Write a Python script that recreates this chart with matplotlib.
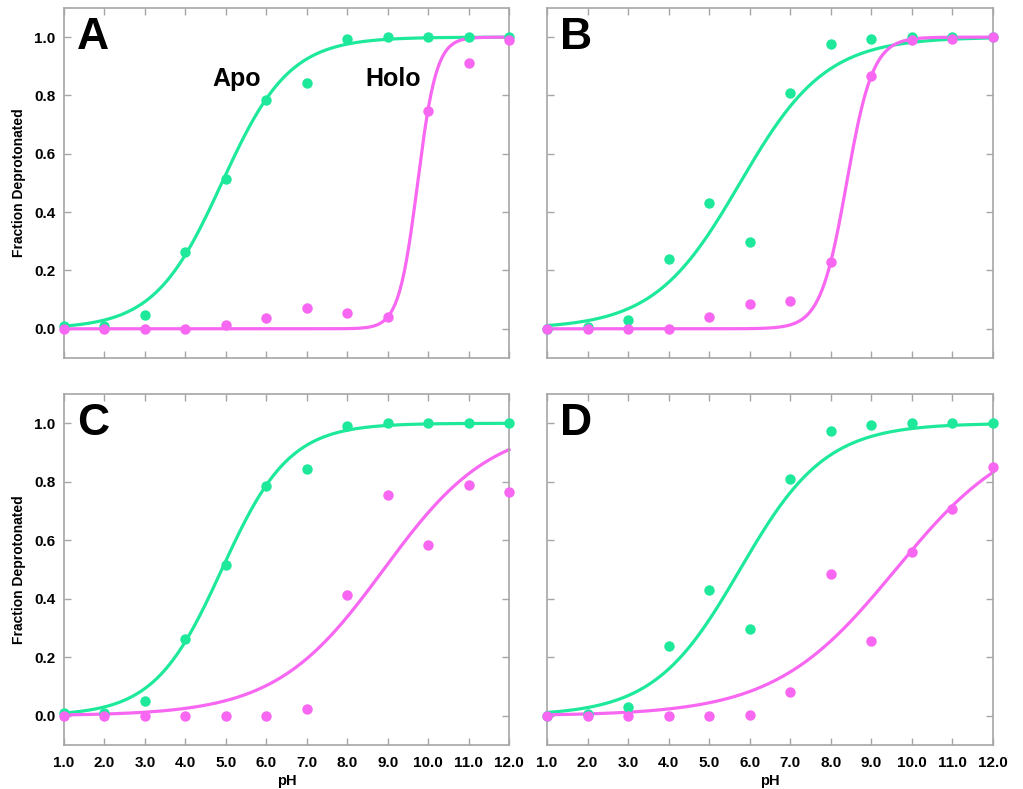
import numpy as np
import matplotlib
matplotlib.use("Agg")
import matplotlib.pyplot as plt

plt.rcParams["font.family"] = ["Liberation Sans", "DejaVu Sans"]
plt.rcParams["font.weight"] = "bold"

# ── Data ─────────────────────────────────────────────────────────────────────
PH = [1, 2, 3, 4, 5, 6, 7, 8, 9, 10, 11, 12]

APO_AC = [0.01, 0.01, 0.049, 0.262, 0.514, 0.786, 0.844, 0.992, 1.0, 1.0, 1.0, 1.0]
APO_BD = [0.0, 0.006, 0.03, 0.238, 0.43, 0.296, 0.808, 0.975, 0.995, 1.0, 1.0, 1.0]

HOLO_A = [0.0, 0.0, 0.0, 0.0, 0.012, 0.038, 0.071, 0.055, 0.04, 0.747, 0.913, 0.991]
HOLO_B = [0.0, 0.0, 0.0, 0.0, 0.039, 0.084, 0.096, 0.23, 0.867, 0.991, 0.995, 1.0]
HOLO_C = [0.0, 0.0, 0.0, 0.0, 0.0, 0.0, 0.024, 0.413, 0.755, 0.583, 0.789, 0.766]
HOLO_D = [0.0, 0.0, 0.0, 0.0, 0.0, 0.003, 0.08, 0.486, 0.254, 0.561, 0.708, 0.852]

# fitted titration curves: (pKa, slope)
FIT_APO_AC = (4.9, 0.52)
FIT_APO_BD = (5.76, 0.41)
FIT_HOLO_A = (9.74, 1.86)
FIT_HOLO_B = (8.39, 1.34)
FIT_HOLO_C = (8.9, 0.324)
FIT_HOLO_D = (9.6, 0.29)

PANELS = ["A", "B", "C", "D"]
APO = [APO_AC, APO_BD, APO_AC, APO_BD]
HOLO = [HOLO_A, HOLO_B, HOLO_C, HOLO_D]
FIT_APO = [FIT_APO_AC, FIT_APO_BD, FIT_APO_AC, FIT_APO_BD]
FIT_HOLO = [FIT_HOLO_A, FIT_HOLO_B, FIT_HOLO_C, FIT_HOLO_D]

GREEN = "#1ee99b"
MAGENTA = "#f767f1"
FRAME = "#a6a6a6"


def titration(ph, pka, n):
    return 1.0 / (1.0 + 10 ** (n * (pka - ph)))


fig = plt.figure(figsize=(10.23, 7.89), dpi=100)

# axes boxes in figure fractions (left, bottom, width, height)
boxes = [
    (0.0626, 0.5463, 0.435, 0.4436),
    (0.5347, 0.5463, 0.436, 0.4436),
    (0.0626, 0.0558, 0.435, 0.4448),
    (0.5347, 0.0558, 0.436, 0.4448),
]

x_fine = np.linspace(1, 12, 400)

for i, label in enumerate(PANELS):
    ax = fig.add_axes(boxes[i])

    ka, na = FIT_APO[i]
    kh, nh = FIT_HOLO[i]
    ax.plot(x_fine, titration(x_fine, ka, na), color=GREEN, lw=2.3, zorder=2,
            clip_on=False)
    ax.plot(x_fine, titration(x_fine, kh, nh), color=MAGENTA, lw=2.3, zorder=2,
            clip_on=False)
    ax.plot(PH, APO[i], "o", color=GREEN, ms=7.5, mec="none", zorder=3,
            clip_on=False)
    ax.plot(PH, HOLO[i], "o", color=MAGENTA, ms=7.5, mec="none", zorder=4,
            clip_on=False)

    ax.set_xlim(1, 12)
    ax.set_ylim(-0.1, 1.1)
    ax.set_xticks(PH)
    ax.set_yticks([0.0, 0.2, 0.4, 0.6, 0.8, 1.0])

    for s in ax.spines.values():
        s.set_color(FRAME)
        s.set_linewidth(1.2)
    ax.tick_params(direction="in", length=5, width=1, color=FRAME,
                   top=True, right=True, labelsize=11)
    ax.tick_params(axis="x", pad=8)
    ax.tick_params(axis="y", pad=6)

    if i % 2 == 0:
        ax.set_yticklabels([f"{v:.1f}" for v in ax.get_yticks()],
                           fontweight="bold")
        ax.set_ylabel("Fraction Deprotonated", fontsize=10, fontweight="bold",
                      labelpad=6)
    else:
        ax.set_yticklabels([])

    if i >= 2:
        ax.set_xticklabels([f"{v:.1f}" for v in PH], fontweight="bold")
        ax.set_xlabel("pH", fontsize=10.5, fontweight="bold", labelpad=3)
    else:
        ax.set_xticklabels([])

    ax.text(0.029, 0.916, label, transform=ax.transAxes, fontsize=32,
            fontweight="bold", ha="left", va="center", zorder=5)

    if label == "A":
        ax.text(5.28, 0.856, "Apo", fontsize=18, fontweight="bold",
                ha="center", va="center")
        ax.text(9.13, 0.856, "Holo", fontsize=18, fontweight="bold",
                ha="center", va="center")

fig.savefig("out.png", dpi=100)
